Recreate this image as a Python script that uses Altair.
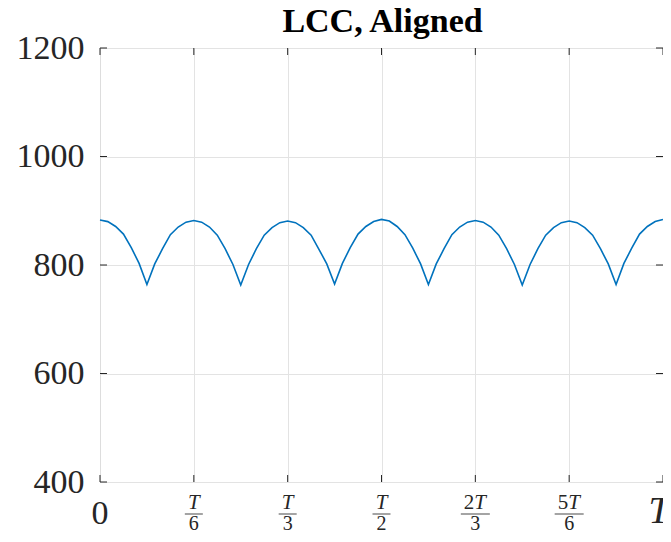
import altair as alt
import pandas as pd

# ---- data ----
values = [
    883, 880, 871, 857, 832, 803, 764, 802, 830, 856, 870, 879, 882,
    879, 870, 855, 830, 801, 763, 801, 830, 855, 869, 878, 881,
    878, 869, 855, 829, 802, 765, 803, 832, 857, 871, 880, 884,
    881, 871, 856, 831, 802, 764, 802, 830, 856, 870, 879, 882,
    879, 870, 855, 830, 801, 763, 801, 830, 855, 869, 878, 881,
    878, 869, 855, 830, 802, 764, 803, 831, 857, 871, 880, 884,
]
n_steps = len(values) - 1
t_frac = [i / n_steps for i in range(len(values))]

y_ticks = [400, 600, 800, 1000, 1200]
x_ticks = [0, 1/6, 1/3, 1/2, 2/3, 5/6, 1]
grid_x = [1/6, 1/3, 1/2, 2/3, 5/6]

frac_pos = [1/6, 1/3, 1/2, 2/3, 5/6]
frac_coef = ["", "", "", "2", "5"]
frac_den = ["6", "3", "2", "3", "6"]

title_text = "LCC, Aligned"

# ---- layout ----
W, H = 563, 434
SERIF = "Liberation Serif"
FRAME = "#262626"
GRID = "#e3e3e3"

df = pd.DataFrame({"t": t_frac, "v": values})
df_xt = pd.DataFrame({"t": x_ticks})
df_yt = pd.DataFrame({"v": y_ticks})
df_frac = pd.DataFrame({"t": frac_pos, "coef": frac_coef, "den": frac_den})

xscale = alt.Scale(domain=[0, 1], nice=False, zero=False)
yscale = alt.Scale(domain=[400, 1200], nice=False, zero=False)

line = alt.Chart(df).mark_line(color="#0072BD", strokeWidth=1.6).encode(
    x=alt.X("t:Q", scale=xscale,
            axis=alt.Axis(values=grid_x, grid=True, gridColor=GRID, gridWidth=1,
                          labels=False, ticks=False, domain=False, title=None)),
    y=alt.Y("v:Q", scale=yscale,
            axis=alt.Axis(values=y_ticks, format="d", grid=True, gridColor=GRID,
                          gridWidth=1, labelFont=SERIF, labelFontSize=34,
                          labelColor=FRAME, labelPadding=16, ticks=False,
                          tickSize=0, domain=False, title=None)),
)

tick_style = dict(color=FRAME, strokeWidth=1)
bx = alt.Chart(df_xt).mark_rule(**tick_style).encode(
    x=alt.X("t:Q", scale=xscale), y=alt.value(H), y2=alt.value(H - 7))
tx = alt.Chart(df_xt).mark_rule(**tick_style).encode(
    x=alt.X("t:Q", scale=xscale), y=alt.value(0), y2=alt.value(7))
ly = alt.Chart(df_yt).mark_rule(**tick_style).encode(
    y=alt.Y("v:Q", scale=yscale), x=alt.value(0), x2=alt.value(7))
ry = alt.Chart(df_yt).mark_rule(**tick_style).encode(
    y=alt.Y("v:Q", scale=yscale), x=alt.value(W), x2=alt.value(W - 7))

# big end labels
zero_lbl = alt.Chart(pd.DataFrame({"t": [0], "s": ["0"]})).mark_text(
    font=SERIF, fontSize=34, color=FRAME, align="center", baseline="alphabetic"
).encode(x=alt.X("t:Q", scale=xscale), y=alt.value(H + 42), text="s:N")
t_lbl = alt.Chart(pd.DataFrame({"t": [1], "s": ["T"]})).mark_text(
    font=SERIF, fontSize=38, fontStyle="italic", color=FRAME, align="center",
    baseline="alphabetic", dx=-4
).encode(x=alt.X("t:Q", scale=xscale), y=alt.value(H + 41), text="s:N")

# fractions
NUM_Y, BAR_Y, DEN_Y = H + 27, H + 32, H + 48
frac_base = alt.Chart(df_frac)
num_single = frac_base.transform_filter("datum.coef == ''").mark_text(
    font=SERIF, fontSize=21, fontStyle="italic", color=FRAME, align="center",
    baseline="alphabetic", text="T"
).encode(x=alt.X("t:Q", scale=xscale), y=alt.value(NUM_Y))
num_T = frac_base.transform_filter("datum.coef != ''").mark_text(
    font=SERIF, fontSize=21, fontStyle="italic", color=FRAME, align="left",
    baseline="alphabetic", text="T", dx=-1
).encode(x=alt.X("t:Q", scale=xscale), y=alt.value(NUM_Y))
num_coef = frac_base.transform_filter("datum.coef != ''").mark_text(
    font=SERIF, fontSize=21, color=FRAME, align="right",
    baseline="alphabetic", dx=-1
).encode(x=alt.X("t:Q", scale=xscale), y=alt.value(NUM_Y), text="coef:N")
bar_single = frac_base.transform_filter("datum.coef == ''").mark_tick(
    orient="horizontal", size=18, thickness=1.2, color=FRAME
).encode(x=alt.X("t:Q", scale=xscale), y=alt.value(BAR_Y))
bar_double = frac_base.transform_filter("datum.coef != ''").mark_tick(
    orient="horizontal", size=29, thickness=1.2, color=FRAME
).encode(x=alt.X("t:Q", scale=xscale), y=alt.value(BAR_Y))
den = frac_base.mark_text(
    font=SERIF, fontSize=20, color=FRAME, align="center", baseline="alphabetic"
).encode(x=alt.X("t:Q", scale=xscale), y=alt.value(DEN_Y), text="den:N")

title = alt.Chart(pd.DataFrame({"s": [title_text]})).mark_text(
    font=SERIF, fontSize=34, fontWeight="bold", color="#000000",
    align="center", baseline="alphabetic"
).encode(x=alt.value(W / 2 + 1), y=alt.value(-16), text="s:N")

chart = alt.layer(
    line, bx, tx, ly, ry, zero_lbl, t_lbl,
    num_single, num_T, num_coef, bar_single, bar_double, den, title
).properties(
    width=W, height=H,
    autosize=alt.AutoSizeParams(type="none"),
    padding={"left": 92, "top": 40, "right": 0, "bottom": 52},
).configure_view(
    stroke=FRAME, strokeWidth=1.5, clip=False
).configure(background="white")

chart.save("out.html", embed_options={"renderer": "svg", "actions": False})
